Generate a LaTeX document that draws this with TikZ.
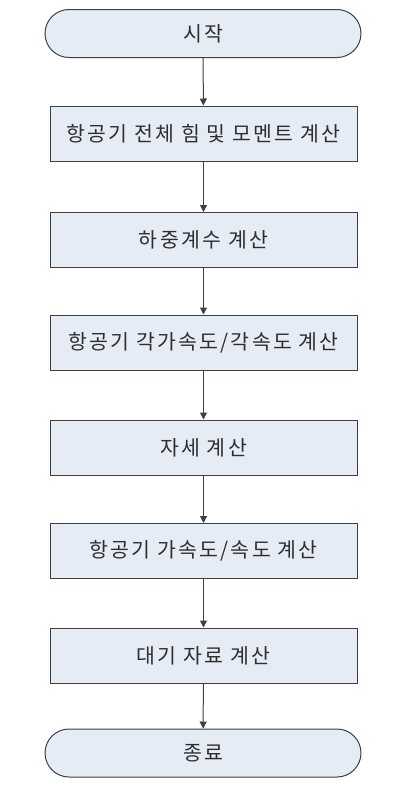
\documentclass[tikz,border=0pt]{standalone}
\usepackage{fontspec}
\newfontfamily\kr[LetterSpace=11]{Noto Sans CJK KR}
\usetikzlibrary{arrows.meta,shapes.misc}
\definecolor{boxfill}{HTML}{E6ECF6}
\definecolor{boxline}{HTML}{404040}
\definecolor{txt}{HTML}{2E2E2E}
\tikzset{
  stepbox/.style={draw=boxline, fill=boxfill, line width=1pt, minimum width=307pt, minimum height=55pt, inner sep=0pt, font=\kr\fontsize{20.5}{23}\selectfont, text=txt},
  term/.style={stepbox, rounded rectangle, minimum width=316pt, minimum height=48pt},
  conn/.style={draw=boxline, line width=1pt, -{Triangle[length=7pt,width=7pt]}}
}
\begin{document}
\begin{tikzpicture}[x=1pt,y=-1pt]
\useasboundingbox (0,0) rectangle (402,787);
\node[term] (s) at (203,33.5) {시작};
\node[stepbox] (b1) at (203.5,133.5) {항공기 전체 힘 및 모멘트 계산};
\node[stepbox] (b2) at (203.5,240) {하중계수 계산};
\node[stepbox] (b3) at (203.5,342.5) {항공기 각가속도/각속도 계산};
\node[stepbox] (b4) at (203.5,447.5) {자세 계산};
\node[stepbox] (b5) at (203.5,551) {항공기 가속도/속도 계산};
\node[stepbox] (b6) at (203.5,655.5) {대기 자료 계산};
\node[term] (e) at (203,753) {종료};
\draw[conn] (s) -- (b1);
\draw[conn] (b1) -- (b2);
\draw[conn] (b2) -- (b3);
\draw[conn] (b3) -- (b4);
\draw[conn] (b4) -- (b5);
\draw[conn] (b5) -- (b6);
\draw[conn] (b6) -- (e);
\end{tikzpicture}
\end{document}
